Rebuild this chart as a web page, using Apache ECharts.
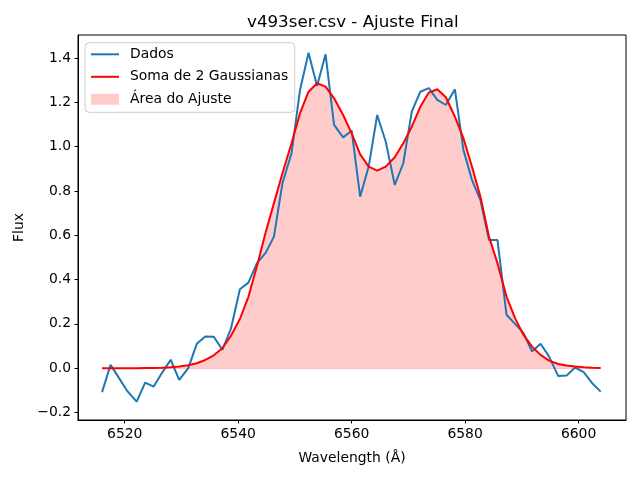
<!DOCTYPE html>
<html>
<head>
<meta charset="utf-8">
<script src="https://cdn.jsdelivr.net/npm/echarts@6/dist/echarts.min.js"></script>
<style>html,body{margin:0;padding:0;background:#fff;}#c{width:640px;height:480px;}</style>
</head>
<body>
<div id="c"></div>
<script>
const wavelength = [6516.0, 6517.5, 6519.0, 6520.5, 6522.1, 6523.6, 6525.1, 6526.6, 6528.1, 6529.6,
  6531.2, 6532.7, 6534.2, 6535.7, 6537.2, 6538.7, 6540.3, 6541.8, 6543.3, 6544.8,
  6546.3, 6547.8, 6549.4, 6550.9, 6552.4, 6553.9, 6555.4, 6556.9, 6558.5, 6560.0,
  6561.5, 6563.0, 6564.5, 6566.0, 6567.6, 6569.1, 6570.6, 6572.1, 6573.6, 6575.1,
  6576.6, 6578.2, 6579.7, 6581.2, 6582.7, 6584.2, 6585.7, 6587.3, 6588.8, 6590.3,
  6591.8, 6593.3, 6594.8, 6596.4, 6597.9, 6599.4, 6600.9, 6602.4, 6603.9];
const fluxData = [-0.108, 0.015, -0.045, -0.105, -0.151, -0.065, -0.083, -0.020, 0.038, -0.053,
  0.000, 0.110, 0.143, 0.142, 0.083, 0.176, 0.356, 0.386, 0.474, 0.519,
  0.594, 0.835, 0.970, 1.256, 1.424, 1.274, 1.417, 1.098, 1.042, 1.072,
  0.774, 0.910, 1.143, 1.023, 0.827, 0.925, 1.158, 1.248, 1.264, 1.211,
  1.188, 1.259, 0.985, 0.850, 0.759, 0.579, 0.579, 0.241, 0.200, 0.158,
  0.075, 0.110, 0.052, -0.035, -0.033, 0.003, -0.018, -0.068, -0.106];
const fluxFit = [0.000, 0.000, 0.000, 0.000, 0.000, 0.001, 0.001, 0.002, 0.004, 0.008,
  0.013, 0.022, 0.037, 0.058, 0.090, 0.145, 0.222, 0.322, 0.460, 0.609,
  0.745, 0.880, 1.015, 1.151, 1.248, 1.286, 1.271, 1.218, 1.143, 1.060,
  0.965, 0.910, 0.892, 0.910, 0.952, 1.015, 1.090, 1.180, 1.244, 1.259,
  1.223, 1.135, 1.038, 0.910, 0.774, 0.594, 0.474, 0.323, 0.226, 0.150,
  0.097, 0.060, 0.034, 0.019, 0.012, 0.007, 0.004, 0.002, 0.001];
const xTicks = [6520, 6540, 6560, 6580, 6600];
const yTicks = [-0.2, 0.0, 0.2, 0.4, 0.6, 0.8, 1.0, 1.2, 1.4];
const seriesNames = ['Dados', 'Soma de 2 Gaussianas', 'Área do Ajuste'];

const FONT = 'DejaVu Sans';
const dataPairs = wavelength.map((x, i) => [x, fluxData[i]]);
const fitPairs = wavelength.map((x, i) => [x, fluxFit[i]]);

const chart = echarts.init(document.getElementById('c'), null, {renderer: 'canvas'});
chart.setOption({
  animation: false,
  backgroundColor: '#ffffff',
  textStyle: {fontFamily: FONT},
  title: {
    text: 'v493ser.csv - Ajuste Final',
    left: 247, top: 14, padding: 0,
    textStyle: {fontFamily: FONT, fontSize: 16.7, fontWeight: 'normal', color: '#000'}
  },
  grid: {left: 78, right: 14, top: 35, bottom: 60, show: true, borderColor: '#000', borderWidth: 1,
         backgroundColor: 'transparent', containLabel: false, outerBoundsMode: 'none'},
  legend: {
    orient: 'vertical', left: 85, top: 42.7,
    padding: [4.6, 6.5, 6, 5],
    itemWidth: 28, itemHeight: 11, itemGap: 8.5,
    backgroundColor: 'rgba(255,255,255,0.8)', borderColor: '#cccccc', borderWidth: 1, borderRadius: 4,
    textStyle: {fontFamily: FONT, fontSize: 13.9, color: '#000', lineHeight: 14, padding: [0, 0, 0, 6]},
    data: [
      {name: seriesNames[0], itemStyle: {opacity: 0}},
      {name: seriesNames[1], itemStyle: {opacity: 0}},
      {name: seriesNames[2], icon: 'rect', itemStyle: {color: 'rgba(255,0,0,0.2)', opacity: 1, borderWidth: 0}}
    ]
  },
  xAxis: {
    type: 'value', min: 6511.76, max: 6608.36,
    name: 'Wavelength (Å)', nameLocation: 'middle', nameGap: 31,
    nameTextStyle: {fontFamily: FONT, fontSize: 13.9, color: '#000'},
    axisLine: {show: true, onZero: false, lineStyle: {color: '#000', width: 1}},
    axisTick: {show: true, length: 3.5, lineStyle: {color: '#000', width: 1}, customValues: xTicks},
    axisLabel: {show: true, margin: 7, fontFamily: FONT, fontSize: 13.9, color: '#000', customValues: xTicks,
                formatter: v => String(Math.round(v))},
    splitLine: {show: false}
  },
  yAxis: {
    type: 'value', min: -0.234, max: 1.504,
    name: 'Flux', nameLocation: 'middle', nameGap: 48, nameRotate: 90,
    nameTextStyle: {fontFamily: FONT, fontSize: 13.9, color: '#000'},
    axisLine: {show: true, onZero: false, lineStyle: {color: '#000', width: 1}},
    axisTick: {show: true, length: 3.5, lineStyle: {color: '#000', width: 1}, customValues: yTicks},
    axisLabel: {show: true, margin: 7, fontFamily: FONT, fontSize: 13.9, color: '#000', customValues: yTicks,
                formatter: v => (v < -1e-9 ? '\u2212' : '') + Math.abs(v).toFixed(1)},
    splitLine: {show: false}
  },
  series: [
    {
      name: seriesNames[2], type: 'line', data: fitPairs, symbol: 'none', z: 1,
      color: 'rgba(255,0,0,0.2)',
      lineStyle: {width: 0, opacity: 0},
      areaStyle: {color: 'rgba(255,0,0,0.2)', opacity: 1, origin: 0},
      markLine: {
        silent: true, symbol: 'none', label: {show: false},
        lineStyle: {color: 'rgba(255,0,0,0.2)', width: 1, type: 'solid'},
        data: [[{coord: [wavelength[0], 0]}, {coord: [wavelength[wavelength.length - 1], 0]}]]
      }
    },
    {
      name: seriesNames[0], type: 'line', data: dataPairs, symbol: 'none', z: 3,
      color: '#1f77b4', lineStyle: {color: '#1f77b4', width: 2}
    },
    {
      name: seriesNames[1], type: 'line', data: fitPairs, symbol: 'none', z: 4,
      color: '#ff0000', lineStyle: {color: '#ff0000', width: 2}
    }
  ]
});
</script>
</body>
</html>
